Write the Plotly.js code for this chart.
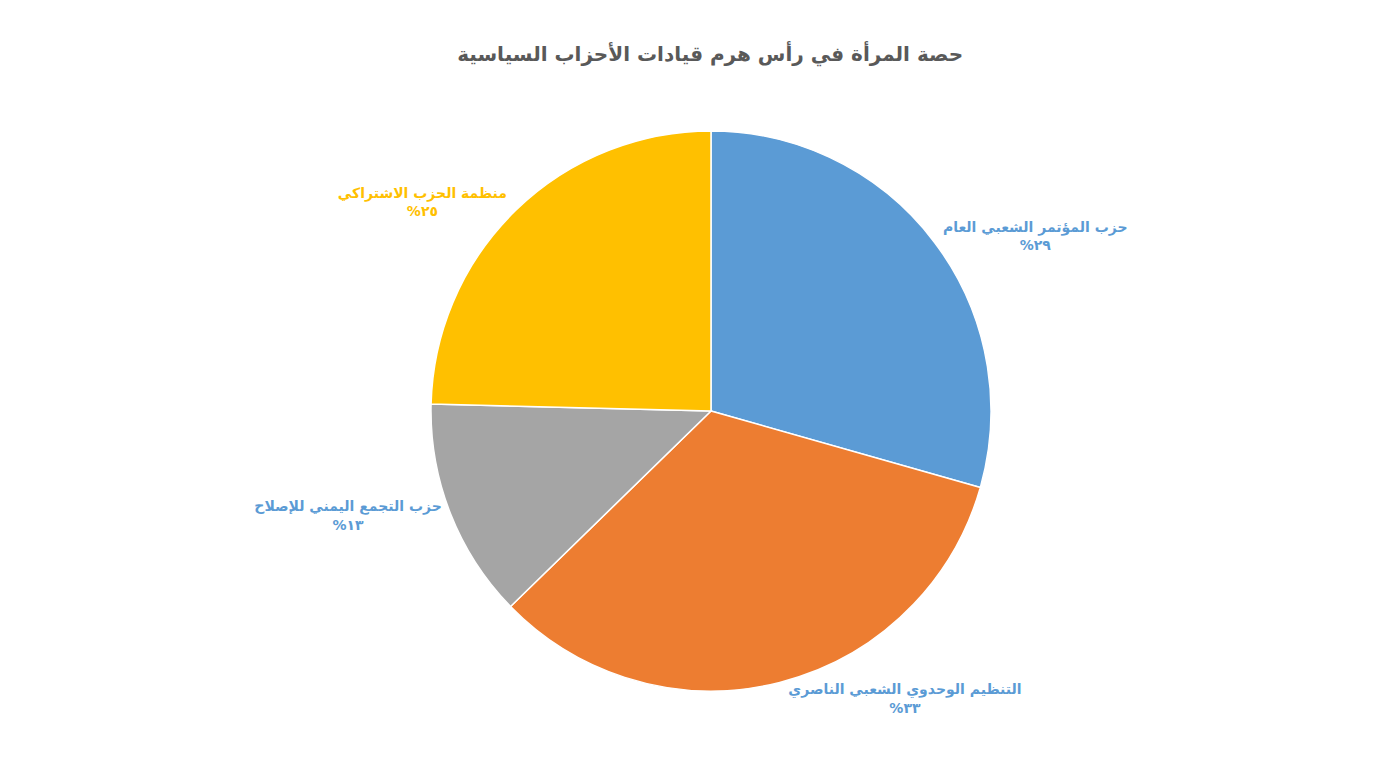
<!DOCTYPE html>
<html>
<head>
<meta charset="utf-8">
<script src="https://cdn.plot.ly/plotly-3.0.1.min.js"></script>
<style>
  body { margin: 0; background: #fff; }
  #chart { width: 1379px; height: 775px; }
</style>
</head>
<body>
<div id="chart"></div>
<script>
// party names, in the order the slices run clockwise from 12 o'clock
const parties = [
    'حزب المؤتمر الشعبي العام',
    'التنظيم الوحدوي الشعبي الناصري',
    'حزب التجمع اليمني للإصلاح',
    'منظمة الحزب الاشتراكي'
]
// shares
const shares = [29.4, 33.3, 12.7, 24.6]
// printed percentages (Arabic-Indic digits)
const share_labels = ['%٢٩', '%٣٣', '%١٣', '%٢٥']

const slice_colors = ['#5b9bd5', '#ed7d31', '#a5a5a5', '#ffc000']
const label_colors = ['#5b9bd5', '#5b9bd5', '#5b9bd5', '#ffc000']

const font_family = '"DejaVu Sans", "Liberation Sans", sans-serif'

let texts = []
for (var i = 0; i < parties.length; i++) {
    texts[i] = '<b>' + parties[i] + '<br>' + share_labels[i] + '</b>'
}

Plotly.newPlot('chart', [{
    type: 'pie',
    labels: parties,
    values: shares,
    text: texts,
    textinfo: 'text',
    textposition: 'outside',
    sort: false,
    direction: 'clockwise',
    rotation: 0,
    hole: 0,
    marker: {
        colors: slice_colors,
        line: { color: '#ffffff', width: 1.5 }
    },
    outsidetextfont: {
        family: font_family,
        size: 14,
        color: label_colors
    },
    automargin: false
}], {
    title: {
        text: '<b>حصة المرأة في رأس هرم قيادات الأحزاب السياسية</b>',
        font: { family: font_family, size: 20, color: '#595959' },
        x: 0.515,
        xanchor: 'center',
        y: 0.93,
        yanchor: 'middle'
    },
    showlegend: false,
    paper_bgcolor: '#ffffff',
    margin: { t: 131, b: 84, l: 43, r: 0 },
    width: 1379,
    height: 775
}, { displayModeBar: false })
</script>
</body>
</html>
